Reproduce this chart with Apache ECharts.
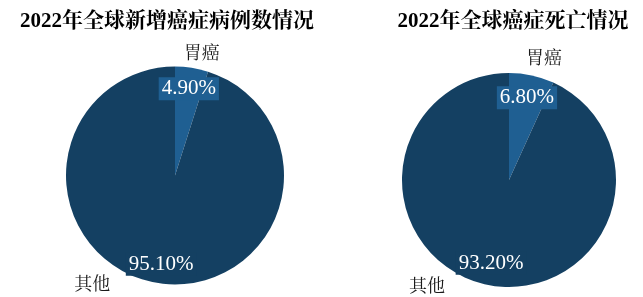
<!DOCTYPE html>
<html>
<head>
<meta charset="utf-8">
<script src="https://cdn.jsdelivr.net/npm/echarts@6/dist/echarts.min.js"></script>
<style>
html,body{margin:0;padding:0;background:#fff;}
#chart{width:643px;height:297px;}
</style>
</head>
<body>
<div id="chart"></div>
<script>
const categories = ['胃癌', '其他'];
const newCasesShare = [4.9, 95.1];
const deathsShare = [6.8, 93.2];
const chartTitles = ['2022年全球新增癌症病例数情况', '2022年全球癌症死亡情况'];

const sliceColors = ['#1f5f92', '#144062'];
const serif = "'Liberation Serif', 'Noto Serif CJK SC', 'Noto Sans CJK SC', serif";

function pctSeries(values, center, radius, offsets) {
  return {
    type: 'pie', center: center, radius: radius, startAngle: 90, clockwise: true,
    silent: true, animation: false, avoidLabelOverlap: false,
    labelLine: { show: false },
    data: categories.map((name, i) => ({
      name: name, value: values[i],
      itemStyle: { color: sliceColors[i], borderWidth: 0 },
      label: {
        show: true, position: 'inside', offset: offsets[i],
        formatter: p => p.value.toFixed(2) + '%',
        color: '#ffffff', fontFamily: serif, fontSize: 21,
        backgroundColor: sliceColors[i], padding: [1, 3]
      }
    }))
  };
}
function nameSeries(values, center, radius, offsets) {
  return {
    type: 'pie', center: center, radius: radius, startAngle: 90, clockwise: true,
    silent: true, animation: false, avoidLabelOverlap: false,
    labelLine: { show: false },
    data: categories.map((name, i) => ({
      name: name, value: values[i],
      itemStyle: { color: 'rgba(0,0,0,0)', borderWidth: 0 },
      label: {
        show: true, position: 'inside', offset: offsets[i],
        formatter: '{b}', color: '#1a1a1a', fontFamily: serif, fontSize: 18
      }
    }))
  };
}

const chart = echarts.init(document.getElementById('chart'), null, { renderer: 'canvas' });
chart.setOption({
  backgroundColor: '#ffffff',
  title: [
    { text: chartTitles[0], left: 162, top: 6, textAlign: 'center',
      textStyle: { fontFamily: serif, fontWeight: 'bold', fontSize: 21, color: '#000' } },
    { text: chartTitles[1], left: 508, top: 6, textAlign: 'center',
      textStyle: { fontFamily: serif, fontWeight: 'bold', fontSize: 21, color: '#000' } }
  ],
  series: [
    pctSeries(newCasesShare, [175, 175.5], 109, [[5, -30], [-5, 32]]),
    nameSeries(newCasesShare, [175, 175.5], 109, [[18, -64], [-74, 53]]),
    pctSeries(deathsShare, [509, 180], 107, [[6, -27], [-6, 28]]),
    nameSeries(deathsShare, [509, 180], 107, [[23, -66], [-70, 52]])
  ]
});
</script>
</body>
</html>
